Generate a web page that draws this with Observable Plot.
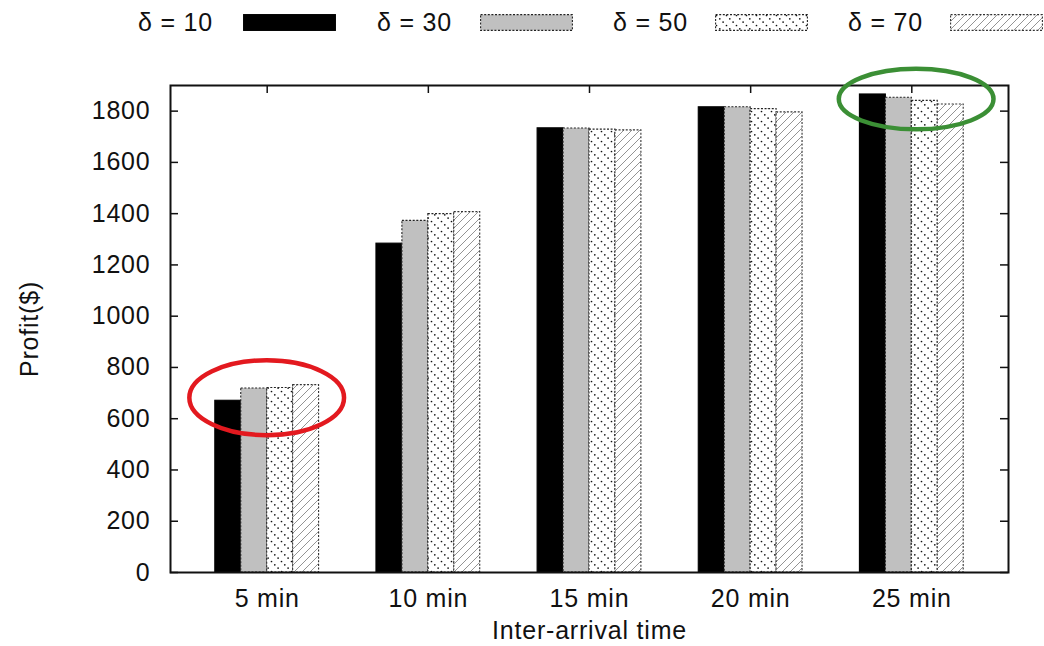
<!DOCTYPE html>
<html>
<head>
<meta charset="utf-8">
<script src="https://cdn.jsdelivr.net/npm/d3@7"></script>
<script src="https://cdn.jsdelivr.net/npm/@observablehq/plot@0.6"></script>
<style>
  html, body { margin: 0; padding: 0; background: #fff; }
  body { width: 1044px; height: 646px; overflow: hidden; font-family: "Liberation Sans", Arial, sans-serif; }
  #legend { position: relative; height: 50px; width: 1044px; font-size: 25px; letter-spacing: 0.8px; color: #111; }
  #legend .lab { position: absolute; top: 8px; line-height: 28px; white-space: nowrap; }
  #legend svg.sw { position: absolute; top: 14px; }
  #chart svg { display: block; }
</style>
</head>
<body>
<div id="legend"></div>
<div id="chart"></div>
<script>
// ---- data ----
const groups = ["5 min", "10 min", "15 min", "20 min", "25 min"];
const seriesNames = ["δ = 10", "δ = 30", "δ = 50", "δ = 70"];
const delta10 = [670, 1283, 1733, 1815, 1865];
const delta30 = [718, 1372, 1732, 1815, 1852];
const delta50 = [720, 1398, 1728, 1808, 1840];
const delta70 = [731, 1406, 1725, 1795, 1826];
const yTicks = [0, 200, 400, 600, 800, 1000, 1200, 1400, 1600, 1800];
const xTitle = "Inter-arrival time";
const yTitle = "Profit($)";
// highlight ellipses: group index centre, profit centre
const highlightGroup = [0.0, 4.03];
const highlightValue = [680, 1845];
const highlightColor = ["#e3191f", "#3b8f35"];

// ---- styles ----
const W = 1044, H = 596;
const mL = 170, mR = 36, mT = 35, mB = 74;
const plotW = W - mL - mR, plotH = H - mT - mB;
const barW = 0.161;
const seriesStyle = [
  {fill: "#000", stroke: "#000", dash: null},
  {fill: "#c0c0c0", stroke: "#222", dash: "2,1.6"},
  {fill: "url(#pdots)", stroke: "#222", dash: "2,1.6"},
  {fill: "url(#phatch)", stroke: "#333", dash: "2,1.6"}
];
const allSeries = [delta10, delta30, delta50, delta70];
const table = [];
allSeries.forEach((vals, si) => vals.forEach((v, gi) => table.push({gi, si, group: groups[gi], series: seriesNames[si], value: v})));
const gIdx = groups.map((g, i) => i);

const barMarks = seriesStyle.map((s, si) => Plot.rectY(table.filter(d => d.si === si), {
  x1: d => d.gi + (d.si - 2) * barW,
  x2: d => d.gi + (d.si - 1) * barW,
  y1: 0,
  y2: "value",
  fill: s.fill,
  stroke: s.stroke,
  strokeWidth: 1.1,
  strokeDasharray: s.dash
}));

const svg = Plot.plot({
  width: W, height: H,
  marginLeft: mL, marginRight: mR, marginTop: mT, marginBottom: mB,
  style: {fontFamily: "Liberation Sans, Arial, sans-serif", fontSize: "25px", letterSpacing: "0.8px", color: "#111", background: "#fff"},
  x: {type: "linear", domain: [-0.6, 4.6]},
  y: {domain: [0, 1900]},
  marks: [
    Plot.ruleY(yTicks, {y: d => d, insetRight: plotW - 8, stroke: "#111", strokeWidth: 1.5}),
    Plot.ruleY(yTicks, {y: d => d, insetLeft: plotW - 8, stroke: "#111", strokeWidth: 1.5}),
    Plot.ruleX(gIdx, {x: d => d, insetBottom: plotH - 8, stroke: "#111", strokeWidth: 1.5}),
    Plot.ruleX(gIdx, {x: d => d, insetTop: plotH - 8, stroke: "#111", strokeWidth: 1.5}),
    ...barMarks,
    Plot.frame({stroke: "#111", strokeWidth: 2}),
    Plot.axisY({ticks: yTicks, tickSize: 0, tickPadding: 20, tickFormat: d => String(d),
      label: yTitle, labelAnchor: "center", labelArrow: "none", labelOffset: 150}),
    Plot.axisX({ticks: gIdx, tickSize: 0, tickPadding: 17, tickFormat: i => groups[i],
      label: xTitle, labelAnchor: "center", labelArrow: "none", labelOffset: 66})
  ]
});

// patterns
const defs = d3.select(svg).insert("defs", ":first-child");
const pd = defs.append("pattern").attr("id", "pdots").attr("patternUnits", "userSpaceOnUse")
  .attr("width", 10).attr("height", 10);
pd.append("rect").attr("width", 10).attr("height", 10).attr("fill", "#fff");
[[1.5, 1.5], [4.8, 4.8], [8.1, 8.1]].forEach(([cx, cy]) => pd.append("circle").attr("cx", cx).attr("cy", cy).attr("r", 0.85).attr("fill", "#111"));
const ph = defs.append("pattern").attr("id", "phatch").attr("patternUnits", "userSpaceOnUse")
  .attr("width", 8).attr("height", 8);
ph.append("rect").attr("width", 8).attr("height", 8).attr("fill", "#fff");
ph.append("path").attr("d", "M0,8 L8,0 M-2,2 L2,-2 M6,10 L10,6").attr("stroke", "#888").attr("stroke-width", 0.9);

// highlight ellipses positioned through the plot's scales
const xs = svg.scale("x"), ys = svg.scale("y");
const pxPerGroup = xs.apply(1) - xs.apply(0);
const pxPerUnit = ys.apply(0) - ys.apply(1);
const ellipseSize = [[0.48, 146], [0.48, 118]]; // half-width in groups, half-height in profit units
highlightGroup.forEach((g, i) => {
  d3.select(svg).append("ellipse")
    .attr("cx", xs.apply(g)).attr("cy", ys.apply(highlightValue[i]))
    .attr("rx", ellipseSize[i][0] * pxPerGroup).attr("ry", ellipseSize[i][1] * pxPerUnit)
    .attr("fill", "none").attr("stroke", highlightColor[i]).attr("stroke-width", 4.5);
});

document.getElementById("chart").appendChild(svg);

// legend
const legend = document.getElementById("legend");
const labX = [138, 377, 613, 848];
const swX = [243, 480, 715, 950];
seriesNames.forEach((name, i) => {
  const lab = document.createElement("div");
  lab.className = "lab";
  lab.style.left = labX[i] + "px";
  lab.textContent = name;
  legend.appendChild(lab);
  const s = seriesStyle[i];
  const sw = d3.create("svg").attr("class", "sw").attr("width", 93).attr("height", 17)
    .style("left", swX[i] + "px");
  sw.append("rect").attr("x", 0.6).attr("y", 0.6).attr("width", 91.8).attr("height", 15.8)
    .attr("fill", s.fill).attr("stroke", s.stroke).attr("stroke-width", 1.1)
    .attr("stroke-dasharray", s.dash);
  legend.appendChild(sw.node());
});
</script>
</body>
</html>
